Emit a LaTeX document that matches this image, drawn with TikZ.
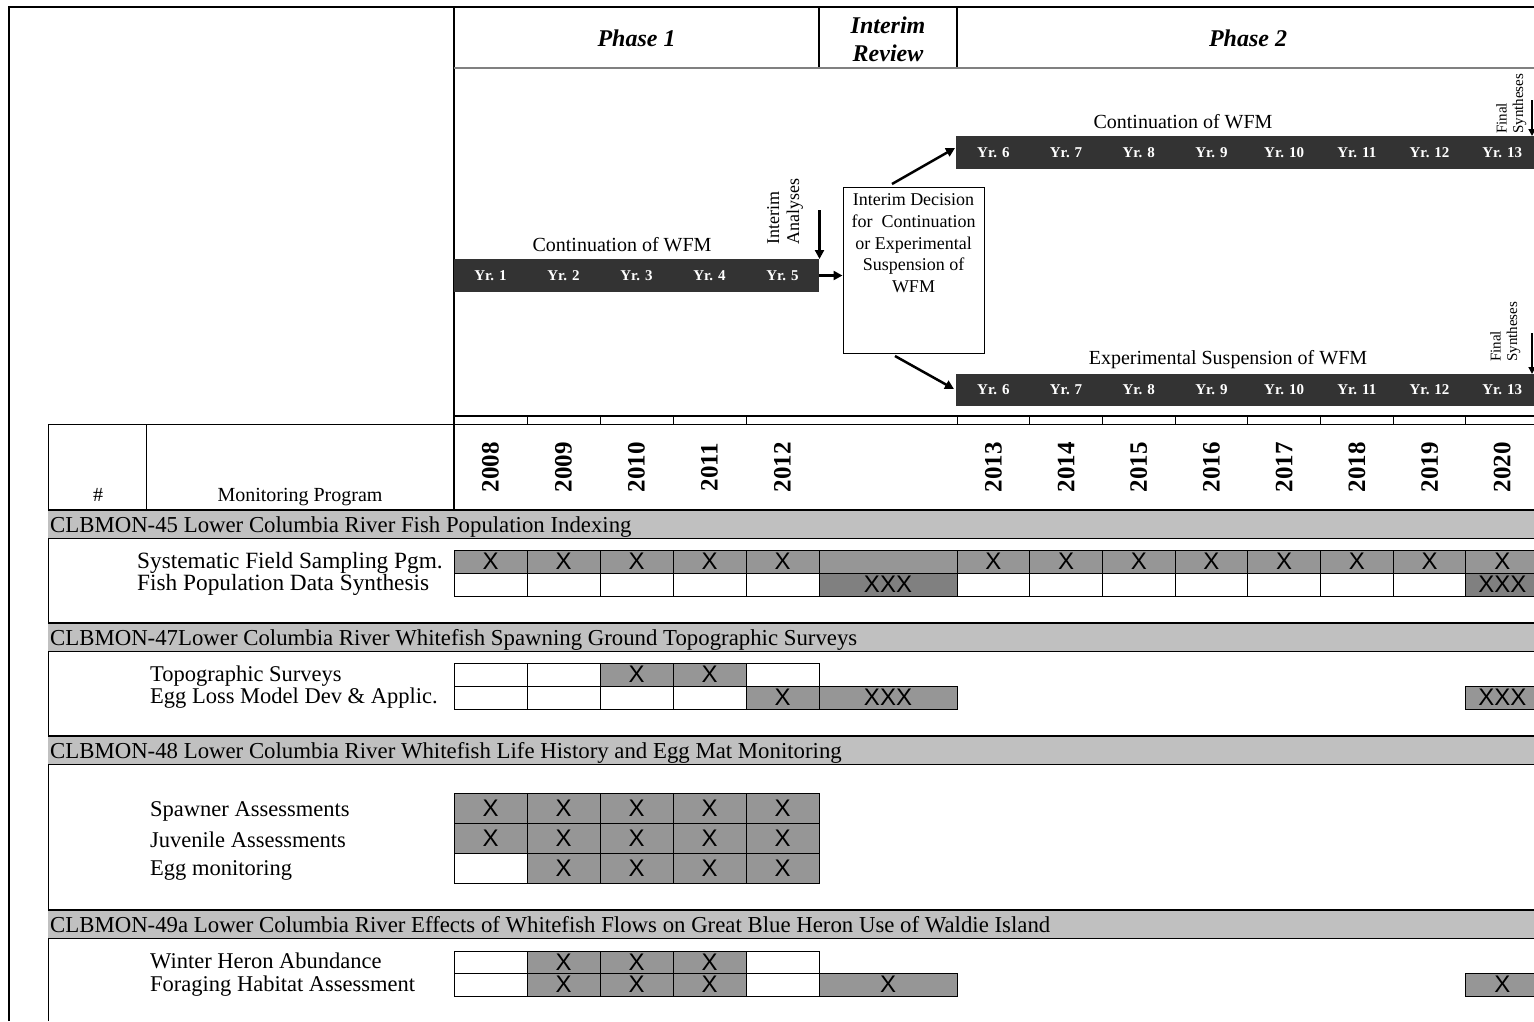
\documentclass[tikz,border=0pt]{standalone}
\usepackage{fontspec}
\setmainfont{Liberation Serif}
\newfontfamily\xfont{Liberation Sans}
\usetikzlibrary{arrows.meta}
\definecolor{barc}{HTML}{333333}
\definecolor{bandc}{HTML}{C0C0C0}
\definecolor{gX}{HTML}{969696}
\definecolor{gD}{HTML}{808080}
\newcommand\fs[2]{\fontsize{#1}{#2}\selectfont}
\newcommand\cel[7]{\node[cellst,fill=#6,minimum width={#3-#2},minimum height={#5-#4}] (#1) at ({(#2+#3)/2},{(#4+#5)/2}) {#7};}
\newcommand\bandrow[3]{%
  \fill[bandc] (48,#2) rectangle (1545,#2+28);
  \draw[line width=1.5pt] (48,#2) -- (1545,#2);
  \draw[line width=1pt] (48,#2+28) -- (1545,#2+28);
  \node[lbl,font=\fs{22.8}{26}] (#1) at (50,#2+22) {#3};}
\tikzset{
  cellst/.style={draw=black,line width=1pt,inner sep=0pt,outer sep=0pt,font=\xfont\fs{24}{26}},
  barst/.style={fill=barc,inner sep=0pt,outer sep=0pt},
  yrst/.style={text=white,font=\bfseries\fs{15}{18},inner sep=0pt},
  yearst/.style={rotate=90,font=\bfseries\fs{25}{28},inner sep=0pt},
  lbl/.style={font=\fs{22.5}{26},inner sep=0pt,anchor=base west},
  hdr/.style={font=\bfseries\itshape\fs{24}{28},align=center,inner sep=0pt},
  midlbl/.style={font=\fs{20}{24},inner sep=0pt,anchor=base},
  arr/.style={line width=2.5pt,-{Triangle[length=9pt,width=9pt]}},
  sarr/.style={line width=2pt,-{Triangle[length=7pt,width=7pt]}},
}
\def\pone{454/527/1,527/600/2,600/673/3,673/746/4,746/819/5}
\def\ptwo{957/1029.7/6,1029.7/1102.4/7,1102.4/1175.1/8,1175.1/1247.8/9,1247.8/1320.5/10,1320.5/1393.2/11,1393.2/1465.9/12,1465.9/1538.6/13}
\begin{document}
\begin{tikzpicture}[x=1pt,y=-1pt]
\clip (0,0) rectangle (1534,1021);
\fill[white] (0,0) rectangle (1534,1021);
% outer frame
\draw[line width=2pt] (9,1021) -- (9,7) -- (1545,7);
% phase header
\draw[line width=1.3pt] (454,7) -- (454,510);
\draw[line width=1.3pt] (819,7) -- (819,68);
\draw[line width=1.3pt] (957,7) -- (957,68);
\draw[line width=1.3pt,gD] (454,68) -- (1545,68);
\node[hdr] (ph1) at (636.5,38) {Phase 1};
\node[hdr] (irv) at (888,39) {Interim\\Review};
\node[hdr] (ph2) at (1248,38) {Phase 2};
% bars
\node[barst,minimum width=365,minimum height=33] (bar1) at (636.5,275.5) {};
\node[barst,minimum width=589,minimum height=33] (bar2) at (1250.5,152.5) {};
\node[barst,minimum width=589,minimum height=32] (bar3) at (1250.5,390) {};
\foreach \x/\t in {490.5/1,563.5/2,636.5/3,709.5/4,782.5/5}
  \node[yrst] (ya\t) at (\x,275.5) {Yr. \t};
\foreach \x/\t in {993.35/6,1066.05/7,1138.75/8,1211.45/9,1284.15/10,1356.85/11,1429.55/12,1502.25/13}{
  \node[yrst] (yb\t) at (\x,152.5) {Yr. \t};
  \node[yrst] (yc\t) at (\x,390) {Yr. \t};}
\node[midlbl] (cw1) at (622,251) {Continuation of WFM};
\node[midlbl] (cw2) at (1183,128) {Continuation of WFM};
\node[midlbl] (esw) at (1228,364) {Experimental Suspension of WFM};
\node[rotate=90,anchor=base west,align=left,inner sep=0pt,font=\fs{18}{20}] (ian) at (799,245) {Interim\\Analyses};
\node[rotate=90,anchor=base west,align=left,inner sep=0pt,font=\fs{15}{16.5}] (fsa) at (1523,134) {Final\\Syntheses};
\node[rotate=90,anchor=base west,align=left,inner sep=0pt,font=\fs{15}{16.5}] (fsb) at (1517,362) {Final\\Syntheses};
% decision box
\node[draw,line width=1pt,minimum width=141,minimum height=166,inner sep=0pt] (box) at (913.5,270) {};
\node[font=\fs{18}{21.75},align=center,anchor=north,inner sep=0pt] (boxt) at (913.5,193.5) {Interim Decision\\for~ Continuation\\or Experimental\\Suspension of\\WFM};
% arrows
\draw[arr] (bar1.east) -- (box.west |- bar1.east);
\coordinate (d1s) at (892,184); \coordinate (d1e) at (955,148);
\draw[arr] (d1s) -- (d1e);
\coordinate (d2s) at (895,356); \coordinate (d2e) at (954,389);
\draw[arr] (d2s) -- (d2e);
\coordinate (ia) at (819.5,210);
\draw[arr] (ia) -- (ia |- bar1.north);
\coordinate (fs1) at (1532,100);
\draw[sarr] (fs1) -- (fs1 |- bar2.north);
\coordinate (fs2) at (1532,333);
\draw[sarr] (fs2) -- (fs2 |- bar3.north);
% thin row and table header
\draw[line width=1.8pt] (454,416) -- (1545,416);
\draw[line width=1pt] (48,1021) -- (48,424) -- (1545,424);
\foreach \x in {527,600,673,746,957,1029.7,1102.4,1175.1,1247.8,1320.5,1393.2,1465.9}
  \draw[line width=1pt] (\x,416) -- (\x,424);
\draw[line width=1pt] (146,424) -- (146,510);
\node[midlbl] (hash) at (98,501) {\#};
\node[midlbl] (mprog) at (300,501) {Monitoring Program};
\foreach \x/\t in {490.5/2008,563.5/2009,636.5/2010,709.5/2011,782.5/2012,993.35/2013,1066.05/2014,1138.75/2015,1211.45/2016,1284.15/2017,1356.85/2018,1429.55/2019,1502.25/2020}
  \node[yearst] (yr\t) at (\x,467) {\t};
% CLBMON-45
\bandrow{b45}{510}{CLBMON-45 Lower Columbia River Fish Population Indexing}
\node[lbl,font=\fs{23.3}{26}] (l45a) at (137,568) {Systematic Field Sampling Pgm.};
\node[lbl,font=\fs{23.3}{26}] (l45b) at (137,590) {Fish Population Data Synthesis};
\foreach \a/\b/\n in \pone {\cel{fa\n}{\a}{\b}{550}{573}{gX}{X}}
\cel{fa0}{819}{957}{550}{573}{gX}{}
\foreach \a/\b/\n in \ptwo {\cel{fa\n}{\a}{\b}{550}{573}{gX}{X}}
\foreach \a/\b/\n in \pone {\cel{fb\n}{\a}{\b}{573}{596}{white}{}}
\cel{fb0}{819}{957}{573}{596}{gD}{XXX}
\foreach \a/\b/\n in {957/1029.7/6,1029.7/1102.4/7,1102.4/1175.1/8,1175.1/1247.8/9,1247.8/1320.5/10,1320.5/1393.2/11,1393.2/1465.9/12} {\cel{fb\n}{\a}{\b}{573}{596}{white}{}}
\cel{fb13}{1465.9}{1538.6}{573}{596}{gD}{XXX}
% CLBMON-47
\bandrow{b47}{623}{CLBMON-47Lower Columbia River Whitefish Spawning Ground Topographic Surveys}
\node[lbl] (l47a) at (150,681) {Topographic Surveys};
\node[lbl] (l47b) at (150,703) {Egg Loss Model Dev \& Applic.};
\cel{ta1}{454}{527}{663}{686}{white}{}
\cel{ta2}{527}{600}{663}{686}{white}{}
\cel{ta3}{600}{673}{663}{686}{gX}{X}
\cel{ta4}{673}{746}{663}{686}{gX}{X}
\cel{ta5}{746}{819}{663}{686}{white}{}
\cel{tb1}{454}{527}{686}{709}{white}{}
\cel{tb2}{527}{600}{686}{709}{white}{}
\cel{tb3}{600}{673}{686}{709}{white}{}
\cel{tb4}{673}{746}{686}{709}{white}{}
\cel{tb5}{746}{819}{686}{709}{gX}{X}
\cel{tb0}{819}{957}{686}{709}{gX}{XXX}
\cel{tb13}{1465.9}{1538.6}{686}{709}{gX}{XXX}
% CLBMON-48
\bandrow{b48}{736}{CLBMON-48 Lower Columbia River Whitefish Life History and Egg Mat Monitoring}
\node[lbl] (l48a) at (150,816) {Spawner Assessments};
\node[lbl] (l48b) at (150,847) {Juvenile Assessments};
\node[lbl] (l48c) at (150,875) {Egg monitoring};
\foreach \a/\b/\n in \pone {\cel{sa\n}{\a}{\b}{793}{823}{gX}{X}}
\foreach \a/\b/\n in \pone {\cel{sb\n}{\a}{\b}{823}{853}{gX}{X}}
\cel{sc1}{454}{527}{853}{883}{white}{}
\foreach \a/\b/\n in {527/600/2,600/673/3,673/746/4,746/819/5} {\cel{sc\n}{\a}{\b}{853}{883}{gX}{X}}
% CLBMON-49a
\bandrow{b49}{910}{CLBMON-49a Lower Columbia River Effects of Whitefish Flows on Great Blue Heron Use of Waldie Island}
\node[lbl] (l49a) at (150,968) {Winter Heron Abundance};
\node[lbl] (l49b) at (150,991) {Foraging Habitat Assessment};
\cel{ha1}{454}{527}{951}{973}{white}{}
\foreach \a/\b/\n in {527/600/2,600/673/3,673/746/4} {\cel{ha\n}{\a}{\b}{951}{973}{gX}{X}}
\cel{ha5}{746}{819}{951}{973}{white}{}
\cel{hb1}{454}{527}{973}{996}{white}{}
\foreach \a/\b/\n in {527/600/2,600/673/3,673/746/4} {\cel{hb\n}{\a}{\b}{973}{996}{gX}{X}}
\cel{hb5}{746}{819}{973}{996}{white}{}
\cel{hb0}{819}{957}{973}{996}{gX}{X}
\cel{hb13}{1465.9}{1538.6}{973}{996}{gX}{X}
\end{tikzpicture}
\end{document}
